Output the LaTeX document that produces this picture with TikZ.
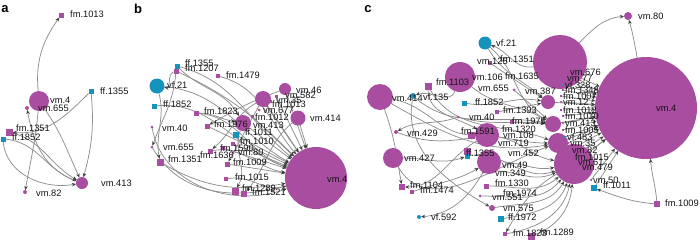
\documentclass[tikz,border=0pt]{standalone}
\usepackage{fontspec}
\setmainfont{Liberation Sans}
\usetikzlibrary{arrows.meta}
\definecolor{mg}{HTML}{A84DA0}
\definecolor{tl}{HTML}{1693BD}
\definecolor{eg}{HTML}{8E8E8E}
\definecolor{ah}{HTML}{404040}
\pgfdeclarelayer{bg}
\pgfsetlayers{bg,main}
\begin{document}
\begin{tikzpicture}[x=1pt,y=1pt,
  mc/.style={circle,fill=mg,inner sep=0pt,outer sep=0pt,minimum size=#1},
  ms/.style={rectangle,fill=mg,inner sep=0pt,outer sep=0pt,minimum size=#1},
  tc/.style={circle,fill=tl,inner sep=0pt,outer sep=0pt,minimum size=#1},
  ts/.style={rectangle,fill=tl,inner sep=0pt,outer sep=0pt,minimum size=#1},
  lbl/.style={font=\fontsize{9.3}{9.3}\selectfont,inner sep=0pt,anchor=west,text=black!92},
  plab/.style={font=\bfseries\fontsize{13}{13}\selectfont,inner sep=0pt},
  e/.style={draw=eg,line width=0.75pt,-{Stealth[length=4.2pt,width=3.6pt,color=ah]}},
]
\useasboundingbox (0,0) rectangle (700,-244);
\node[plab] (pa) at (5,-9) {a};
\node[plab] (pb) at (138,-9) {b};
\node[plab] (pc) at (368,-9) {c};
% ---------------- panel a
\node[mc=20] (a4) at (39,-101) {};
\node[mc=4] (a655) at (27,-108) {};
\node[ms=5] (a1013) at (61,-15) {};
\node[ts=5] (a1355) at (91,-91) {};
\node[ms=7] (a1351) at (9,-132) {};
\node[ts=5] (a1852) at (3,-139) {};
\node[mc=12] (a413) at (82,-183) {};
\node[mc=4] (a82) at (25,-192) {};
\node[lbl] (la1013) at (70,-14) {fm.1013};
\node[lbl] (la4) at (50,-100) {vm.4};
\node[lbl] (la655) at (38,-108) {vm.655};
\node[lbl] (la1355) at (100,-91) {ff.1355};
\node[lbl] (la1351) at (16,-128) {fm.1351};
\node[lbl] (la1852) at (12,-137) {ff.1852};
\node[lbl] (la413) at (101,-183) {vm.413};
\node[lbl] (la82) at (36,-193) {vm.82};
\begin{pgfonlayer}{bg}
\draw[e] (a4) to[out=95,in=-125] (a1013);
\draw[e] (a1355) to[out=-85,in=75] (a413);
\draw[e] (a1355) to[out=-135,in=-5] (a1351);
\draw[e] (a4) to[out=-95,in=80] (a82);
\draw[e] (a413) to[out=160,in=-80] (a655);
\draw[e] (a4) to[out=-55,in=115] (a413);
\draw[e] (a1351) to[out=-15,in=150] (a413);
\draw[e] (a1852) to[out=-5,in=160] (a413);
\draw[e] (a1852) to[out=-85,in=190] (a413);
\end{pgfonlayer}
% ---------------- panel b
\node[tc=15] (bvf21) at (157,-86) {};
\node[ts=5] (bff1355) at (177,-66) {};
\node[ms=5] (bfm1207) at (176,-71) {};
\node[ms=4] (bfm1479) at (218,-76) {};
\node[ts=5] (bff1852) at (154,-106) {};
\node[ms=5] (bfm1823) at (196,-113) {};
\node[mc=3] (bvm40) at (152,-127) {};
\node[ms=5] (bfm1976) at (207,-126) {};
\node[mc=16] (bvm413) at (243,-123) {};
\node[mc=16] (bc1) at (263,-99) {};
\node[mc=12] (bvm46) at (285,-89) {};
\node[mc=15] (bvm414) at (298,-118) {};
\node[ms=3] (bvm582) at (276,-96) {};
\node[ms=3] (bvm35) at (270,-101) {};
\node[ms=3] (bfm1013) at (266,-105) {};
\node[mc=3] (bvm677) at (259,-110) {};
\node[ms=3] (bfm1012) at (252,-116) {};
\node[ts=6] (bff1011) at (236,-135) {};
\node[ms=4] (bfm1010) at (233,-144) {};
\node[ms=4] (bfm1590) at (223,-148) {};
\node[mc=3] (bvm80) at (233,-153) {};
\node[ms=5] (bfm1636) at (210,-151) {};
\node[mc=3] (bvm655) at (152,-147) {};
\node[ms=7] (bfm1351) at (160,-162) {};
\node[ms=5] (bfm1009) at (227,-164) {};
\node[ms=4] (bfm1015) at (226,-179) {};
\node[ms=7] (bfm1289) at (235,-191) {};
\node[ms=6] (bfm1521) at (244,-194) {};
\node[mc=62] (bvm4) at (316,-178) {};
\node[lbl] at (185,-63) {ff.1355};
\node[lbl] at (185,-68) {fm.1207};
\node[lbl] at (167,-85) {vf.21};
\node[lbl] at (226,-75) {fm.1479};
\node[lbl] at (163,-104) {ff.1852};
\node[lbl] at (204,-111) {fm.1823};
\node[lbl] at (162,-128) {vm.40};
\node[lbl] at (214,-124) {fm.1976};
\node[lbl] at (296,-90) {vm.46};
\node[lbl] at (285,-95) {vm.582};
\node[lbl] at (276,-100) {vm.35};
\node[lbl] at (272,-104) {fm.1013};
\node[lbl] at (263,-110) {vm.677};
\node[lbl] at (255,-117) {fm.1012};
\node[lbl] at (310,-118) {vm.414};
\node[lbl] at (253,-125) {vm.413};
\node[lbl] at (245,-132) {ff.1011};
\node[lbl] at (240,-141) {fm.1010};
\node[lbl] at (220,-148) {fm.1590};
\node[lbl] at (238,-152) {vm.80};
\node[lbl] at (200,-155) {fm.1636};
\node[lbl] at (163,-147) {vm.655};
\node[lbl] at (168,-159) {fm.1351};
\node[lbl] at (233,-162) {fm.1009};
\node[lbl] at (235,-177) {fm.1015};
\node[lbl] at (242,-188) {fm.1289};
\node[lbl] at (252,-192) {fm.1521};
\node[lbl] at (327,-179) {vm.4};
\begin{pgfonlayer}{bg}
\draw[e] (bvf21) to[out=-5,in=150] (bvm4);
\draw[e] (bff1355) to[out=-15,in=140] (bvm4);
\draw[e] (bfm1207) to[out=-25,in=135] (bvm4);
\draw[e] (bfm1479) to[out=-15,in=130] (bvm4);
\draw[e] (bff1852) to[out=5,in=160] (bvm4);
\draw[e] (bfm1823) to[out=-5,in=160] (bvm4);
\draw[e] (bfm1976) -- (bvm4);
\draw[e] (bvm413) -- (bvm4);
\draw[e] (bc1) -- (bvm4);
\draw[e] (bvm46) -- (bvm4);
\draw[e] (bvm414) -- (bvm4);
\draw[e] (bvm582) -- (bvm4);
\draw[e] (bfm1013) -- (bvm4);
\draw[e] (bfm1012) -- (bvm4);
\draw[e] (bff1011) -- (bvm4);
\draw[e] (bfm1010) -- (bvm4);
\draw[e] (bfm1590) -- (bvm4);
\draw[e] (bfm1636) to[out=10,in=170] (bvm4);
\draw[e] (bfm1009) -- (bvm4);
\draw[e] (bfm1015) to[out=10,in=195] (bvm4);
\draw[e] (bvm40) to[out=-80,in=200] (bvm4);
\draw[e] (bvm655) to[out=-60,in=195] (bvm4);
\draw[e] (bfm1351) to[out=-30,in=190] (bvm4);
\draw[e] (bfm1207) to[out=-95,in=70] (bvm655);
\draw[e] (bvf21) to[out=-75,in=100] (bfm1351);
\draw[e] (bfm1207) to[out=200,in=-10] (bvf21);
\draw[e] (bff1355) to[out=-45,in=120] (bvm413);
\draw[e] (bfm1823) to[out=0,in=170] (bvm413);
\draw[e] (bvm46) to[out=200,in=30] (bfm1976);
\draw[e] (bc1) to[out=-150,in=40] (bfm1636);
\draw[e] (bvm413) to[out=-110,in=60] (bfm1289);
\draw[e] (bc1) to[out=-120,in=60] (bfm1009);
\draw[e] (bvm414) to[out=-140,in=50] (bfm1521);
\end{pgfonlayer}
% ---------------- panel c
\node[mc=26] (cvm414) at (380,-97) {};
\node[tc=6] (cvf135) at (413,-96) {};
\node[ms=7] (cfm1103) at (428,-86) {};
\node[mc=30] (cc1) at (460,-77) {};
\node[tc=13] (cvf21) at (485,-43) {};
\node[ms=4] (cfm1351) at (490,-63) {};
\node[mc=3] (cvm655) at (514,-90) {};
\node[tc=3] (ctl) at (555,-86) {};
\node[ts=5] (cff1852) at (464,-103) {};
\node[mc=3] (cvm40) at (458,-117) {};
\node[ms=4] (cfm1393) at (497,-112) {};
\node[ms=4] (cfm1975) at (512,-122) {};
\node[mc=4] (cvm429) at (396,-132) {};
\node[mc=20] (cvm427) at (393,-158) {};
\node[ms=7] (cfm1591) at (471,-135) {};
\node[ms=7] (cfm15b) at (467,-151) {};
\node[ts=5] (cff1355) at (467,-156) {};
\node[mc=24] (cc2) at (487,-135) {};
\node[mc=24] (cc3) at (489,-162) {};
\node[ms=6] (cfm1104) at (402,-187) {};
\node[ms=4] (cfm1474) at (412,-192) {};
\node[tc=4] (cvf592) at (419,-217) {};
\node[mc=3] (cvm349) at (483,-172) {};
\node[ms=5] (cfm1330) at (486,-186) {};
\node[mc=3] (cvm551) at (480,-196) {};
\node[mc=6] (cvm575) at (492,-208) {};
\node[ts=6] (cff1972) at (501,-219) {};
\node[ms=4] (cfm1823) at (505,-234) {};
\node[ms=7] (cfm1289) at (531,-236) {};
\node[mc=54] (cbig) at (560,-62) {};
\node[mc=14] (cc4) at (548,-102) {};
\node[mc=16] (cc5) at (553,-124) {};
\node[mc=20] (cc6) at (558,-143) {};
\node[mc=40] (cvm479) at (574,-164) {};
\node[mc=102] (cvm4) at (646,-108) {};
\node[mc=8] (cvm80) at (628,-16) {};
\node[ts=6] (cff1011) at (594,-188) {};
\node[ms=6] (cfm1009) at (657,-204) {};
\node[mc=2.5] (cs1) at (568,-72) {};
\node[mc=2.5] (cs2) at (565,-78) {};
\node[tc=2.5] (cs3) at (563,-85) {};
\node[ms=2.5] (cs4) at (563,-90) {};
\node[ms=2.5] (cs5) at (561,-96) {};
\node[mc=2.5] (cs6) at (561,-102) {};
\node[ms=2.5] (cs7) at (561,-110) {};
\node[ms=2.5] (cs8) at (563,-116) {};
\node[mc=2.5] (cs9) at (563,-123) {};
\node[ms=2.5] (cs10) at (563,-130) {};
\node[tc=2.5] (cs11) at (565,-137) {};
\node[mc=2.5] (cs12) at (568,-143) {};
\node[mc=2.5] (cs13) at (570,-150) {};
\node[ms=2.5] (cs14) at (573,-157) {};
\node[mc=2.5] (cs15) at (576,-162) {};
\node[mc=2.5] (cs16) at (591,-180) {};
\node[lbl] at (570,-72) {vm.676};
\node[lbl] at (567,-78) {vm.77};
\node[lbl] at (565,-85) {vf.328};
\node[lbl] at (565,-90) {fm.1348};
\node[lbl] at (563,-96) {fm.1007};
\node[lbl] at (563,-102) {vm.12};
\node[lbl] at (563,-110) {fm.1012};
\node[lbl] at (565,-116) {fm.1010};
\node[lbl] at (565,-123) {vm.413};
\node[lbl] at (565,-130) {fm.1005};
\node[lbl] at (567,-137) {vf.483};
\node[lbl] at (570,-143) {vm.35};
\node[lbl] at (572,-150) {vm.82};
\node[lbl] at (575,-157) {fm.1015};
\node[lbl] at (578,-162) {vm.61};
\node[lbl] at (582,-167) {vm.479};
\node[lbl] at (593,-180) {vm.50};
\node[lbl] at (603,-185) {ff.1011};
\node[lbl] at (665,-203) {fm.1009};
\node[lbl] at (638,-16) {vm.80};
\node[lbl] at (656,-108) {vm.4};
\node[lbl] at (392,-98) {vm.414};
\node[lbl] at (423,-97) {vf.135};
\node[lbl] at (436,-82) {fm.1103};
\node[lbl] at (496,-43) {vf.21};
\node[lbl] at (477,-61) {vm.125};
\node[lbl] at (500,-59) {fm.1351};
\node[lbl] at (472,-77) {vm.106};
\node[lbl] at (505,-76) {fm.1635};
\node[lbl] at (478,-88) {vm.655};
\node[lbl] at (525,-91) {vm.387};
\node[lbl] at (475,-102) {ff.1852};
\node[lbl] at (469,-117) {vm.40};
\node[lbl] at (503,-110) {fm.1393};
\node[lbl] at (512,-121) {fm.1975};
\node[lbl] at (461,-131) {fm.1591};
\node[lbl] at (466,-153) {ff.1355};
\node[lbl] at (502,-129) {fm.1320};
\node[lbl] at (503,-135) {vm.108};
\node[lbl] at (498,-143) {vm.719};
\node[lbl] at (508,-153) {vm.452};
\node[lbl] at (502,-165) {vm.49};
\node[lbl] at (495,-173) {vm.349};
\node[lbl] at (495,-183) {fm.1330};
\node[lbl] at (503,-193) {fm.1974};
\node[lbl] at (492,-197) {vm.551};
\node[lbl] at (503,-208) {vm.575};
\node[lbl] at (508,-217) {ff.1972};
\node[lbl] at (513,-233) {fm.1823};
\node[lbl] at (540,-232) {fm.1289};
\node[lbl] at (407,-133) {vm.429};
\node[lbl] at (404,-158) {vm.427};
\node[lbl] at (410,-185) {fm.1104};
\node[lbl] at (420,-190) {fm.1474};
\node[lbl] at (431,-217) {vf.592};
\begin{pgfonlayer}{bg}
\draw[e] (cvm4) to[out=100,in=-75] (cvm80);
\draw[e] (cbig) to[out=45,in=185] (cvm80);
\draw[e] (cfm1009) to[out=95,in=-85] (cvm4);
\draw[e] (cfm1009) to[out=175,in=-20] (cff1011);
\draw[e] (cff1011) -- (cvm4);
\draw[e] (cvm479) -- (cvm4);
\draw[e] (cc6) -- (cvm4);
\draw[e] (cc5) -- (cvm4);
\draw[e] (cc4) -- (cvm4);
\foreach \i in {1,...,16} {\draw[e] (cs\i) -- (cvm4);}
\draw[e] (cvm414) to[out=-30,in=190] (cc6);
\draw[e] (cvf135) to[out=-40,in=170] (cc5);
\draw[e] (cfm1103) to[out=-60,in=160] (cc6);
\draw[e] (cc1) to[out=-40,in=150] (cc5);
\draw[e] (cff1852) to[out=-10,in=170] (cc4);
\draw[e] (cvm40) to[out=-15,in=175] (cc5);
\draw[e] (cfm1393) -- (cc4);
\draw[e] (cfm1975) -- (cc5);
\draw[e] (cfm1591) to[out=0,in=180] (cc6);
\draw[e] (cc2) to[out=-10,in=170] (cvm479);
\draw[e] (cc3) to[out=0,in=190] (cvm479);
\draw[e] (cff1355) to[out=10,in=200] (cvm479);
\draw[e] (cvm349) to[out=10,in=205] (cvm479);
\draw[e] (cfm1330) to[out=0,in=220] (cvm479);
\draw[e] (cvm551) to[out=0,in=230] (cvm479);
\draw[e] (cvm575) to[out=10,in=240] (cvm479);
\draw[e] (cff1972) to[out=10,in=250] (cvm479);
\draw[e] (cfm1823) to[out=10,in=258] (cvm479);
\draw[e] (cfm1289) to[out=20,in=265] (cvm479);
\draw[e] (cvm479) to[out=-150,in=60] (cfm1823);
\draw[e] (cc3) to[out=-120,in=5] (cvf592);
\draw[e] (cc2) to[out=-150,in=0] (cfm1104);
\draw[e] (cvm414) to[out=-70,in=100] (cfm1104);
\draw[e] (cvm40) to[out=200,in=30] (cvm429);
\draw[e] (cvm427) to[out=0,in=200] (cff1355);
\draw[e] (cfm1474) to[out=20,in=210] (cc3);
\draw[e] (cvf21) to[out=-60,in=140] (cc4);
\draw[e] (cvf21) to[out=-40,in=150] (cc5);
\draw[e] (cbig) to[out=190,in=-20] (cvf21);
\draw[e] (cvm429) to[out=-20,in=190] (cc2);
\draw[e] (cvm414) to[out=-10,in=180] (cc2);
\draw[e] (cfm1103) to[out=-90,in=150] (cc2);
\draw[e] (cc1) to[out=-110,in=20] (cvf135);
\draw[e] (cfm1351) -- (cc4);
\draw[e] (cvm655) -- (cc5);
\draw[e] (cvm427) to[out=-60,in=200] (cc6);
\draw[e] (cvf135) to[out=-100,in=150] (cvm575);
\end{pgfonlayer}
\end{tikzpicture}
\end{document}
